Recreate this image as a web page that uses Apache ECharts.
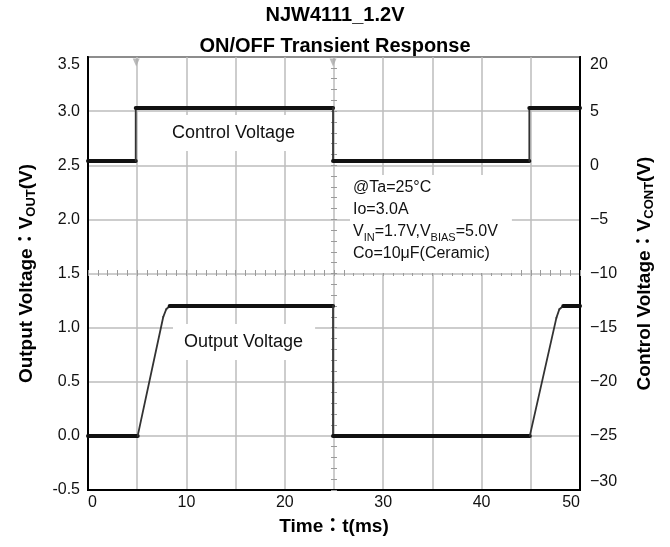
<!DOCTYPE html>
<html><head><meta charset="utf-8">
<script src="https://cdn.jsdelivr.net/npm/echarts@6/dist/echarts.min.js"></script>
<style>html,body{margin:0;padding:0;background:#fff}#c{width:670px;height:547px}</style>
</head><body><div id="c"></div>
<script>
// ---- data ----
const titleLines = ['NJW4111_1.2V', 'ON/OFF Transient Response'];
const xTickLabels = ['0', '10', '20', '30', '40', '50'];
const leftTickLabels = ['-0.5', '0.0', '0.5', '1.0', '1.5', '2.0', '2.5', '3.0', '3.5'];
const rightTickLabels = ['\u221230', '\u221225', '\u221220', '\u221215', '\u221210', '\u22125', '0', '5', '20'];
const outputTime = [0, 5.05, 7.65, 7.95, 8.3, 24.9, 24.9, 44.9, 47.6, 47.9, 48.3, 50];
const outputVolt = [0, 0, 1.1, 1.17, 1.2, 1.2, 0, 0, 1.09, 1.17, 1.2, 1.2];
const controlTime = [0, 4.85, 4.85, 24.9, 24.9, 44.85, 44.85, 50];
const controlVolt = [0.4, 0.4, 5.3, 5.3, 0.4, 0.4, 5.3, 5.3];
const triggerTimes = [4.9, 24.9];
const triggerLevel = [3.45, 3.45];
const annotationLines = ['@Ta=25°C', 'Io=3.0A', 'V{IN}=1.7V,V{BIAS}=5.0V', 'Co=10μF(Ceramic)'];

const FONT = '"Liberation Sans", Arial, "Noto Sans CJK JP", sans-serif';
const NARROW = '"Liberation Sans Narrow", "Liberation Sans", Arial, sans-serif';
const GRIDC = '#bdbdbd';
const TICKC = '#9a9a9a';

function toSegments(ts, vs) {
  const out = [];
  for (let i = 0; i < ts.length - 1; i++) out.push([ts[i], vs[i], ts[i + 1], vs[i + 1]]);
  return out;
}
function renderSeg(params, api) {
  const a = api.coord([api.value(0), api.value(1)]);
  const b = api.coord([api.value(2), api.value(3)]);
  const flat = api.value(1) === api.value(3);
  return {
    type: 'line',
    shape: { x1: a[0], y1: a[1], x2: b[0], y2: b[1] },
    style: { stroke: flat ? '#111' : '#333', lineWidth: flat ? 4 : 1.8, lineCap: 'round' }
  };
}
function subRich(line) {
  return line.replace(/([^{}]+)|\{([^}]+)\}/g, (m, n, s) => n ? '{n|' + n + '}' : '{s|' + s + '}');
}

const centerTickX = inside => ({
  type: 'value', min: 0, max: 50, interval: 5, position: 'bottom', offset: -217,
  axisLine: { show: false, onZero: false },
  axisTick: { show: true, inside: inside, length: 3, lineStyle: { color: TICKC, width: 1 } },
  minorTick: { show: true, splitNumber: 5, length: 3, lineStyle: { color: TICKC, width: 1 } },
  axisLabel: { show: false }, splitLine: { show: false }
});
const centerTickY = inside => ({
  type: 'value', min: -0.5, max: 3.5, interval: 0.5, position: 'left', offset: -246,
  axisLine: { show: false, onZero: false },
  axisTick: { show: true, inside: inside, length: 3, lineStyle: { color: TICKC, width: 1 } },
  minorTick: { show: true, splitNumber: 5, length: 3, lineStyle: { color: TICKC, width: 1 } },
  axisLabel: { show: false }, splitLine: { show: false }
});

const chart = echarts.init(document.getElementById('c'));
chart.setOption({
  animation: false,
  backgroundColor: '#fff',
  title: {
    text: titleLines.join('\n'), left: 'center', top: 0, padding: 0,
    textStyle: { fontFamily: FONT, fontSize: 20, fontWeight: 'bold', color: '#000', lineHeight: 31 }
  },
  grid: { left: 88, right: 90, top: 57, bottom: 57, show: true, borderColor: '#000', borderWidth: 2, containLabel: false, outerBoundsMode: 'none' },
  xAxis: [
    {
      type: 'value', min: 0, max: 50, interval: 5, position: 'bottom',
      axisLine: { show: true, onZero: false, lineStyle: { color: '#000', width: 2 } },
      axisTick: { show: false },
      axisLabel: { formatter: v => (v % 10 === 0 ? xTickLabels[v / 10] : ''), color: '#111', fontSize: 16, fontFamily: FONT, margin: 5, alignMinLabel: 'left', alignMaxLabel: 'right' },
      splitLine: { show: true, lineStyle: { color: GRIDC, width: 1.5 } },
      name: 'Time：t(ms)', nameLocation: 'middle', nameGap: 27,
      nameTextStyle: { fontSize: 19, fontWeight: 'bold', color: '#000', fontFamily: FONT }
    },
    centerTickX(true), centerTickX(false)
  ],
  yAxis: [
    {
      type: 'value', min: -0.5, max: 3.5, interval: 0.5, position: 'left',
      axisLine: { show: true, onZero: false, lineStyle: { color: '#000', width: 2 } },
      axisTick: { show: false },
      axisLabel: { formatter: v => leftTickLabels[Math.round((v + 0.5) / 0.5)], color: '#111', fontSize: 16, fontFamily: FONT, margin: 8, verticalAlignMaxLabel: 'top' },
      splitLine: { show: true, lineStyle: { color: GRIDC, width: 1.5 } },
      name: '{b|Output Voltage：V}{s|OUT}{b|(V)}', nameLocation: 'middle', nameGap: 50, nameRotate: 90,
      nameTextStyle: {
        rich: {
          b: { fontSize: 19, fontWeight: 'bold', color: '#000', fontFamily: FONT, lineHeight: 22 },
          s: { fontSize: 13, fontWeight: 'bold', color: '#000', fontFamily: FONT, lineHeight: 12, verticalAlign: 'bottom' }
        }
      }
    },
    {
      type: 'value', min: -30, max: 10, interval: 5, position: 'right',
      axisLine: { show: true, onZero: false, lineStyle: { color: '#000', width: 2 } },
      axisTick: { show: false },
      axisLabel: { formatter: v => rightTickLabels[Math.round((v + 30) / 5)], color: '#111', fontSize: 16, fontFamily: NARROW, margin: 10, verticalAlignMinLabel: 'bottom', verticalAlignMaxLabel: 'top' },
      splitLine: { show: false },
      name: '{b|Control Voltage：V}{s|CONT}{b|(V)}', nameLocation: 'middle', nameGap: 54, nameRotate: 90,
      nameTextStyle: {
        rich: {
          b: { fontSize: 19, fontWeight: 'bold', color: '#000', fontFamily: FONT, lineHeight: 22 },
          s: { fontSize: 13, fontWeight: 'bold', color: '#000', fontFamily: FONT, lineHeight: 12, verticalAlign: 'bottom' }
        }
      }
    },
    centerTickY(true), centerTickY(false)
  ],
  series: [
    {
      type: 'custom', name: 'Output Voltage', xAxisIndex: 0, yAxisIndex: 0, silent: true, z: 10,
      data: toSegments(outputTime, outputVolt), encode: { x: [0, 2], y: [1, 3] }, renderItem: renderSeg
    },
    {
      type: 'custom', name: 'Control Voltage', xAxisIndex: 0, yAxisIndex: 1, silent: true, z: 10,
      data: toSegments(controlTime, controlVolt), encode: { x: [0, 2], y: [1, 3] }, renderItem: renderSeg
    },
    {
      type: 'scatter', name: 'Trigger', xAxisIndex: 0, yAxisIndex: 0, silent: true, z: 5,
      data: triggerTimes.map((t, i) => [t, triggerLevel[i]]),
      symbol: 'triangle', symbolRotate: 180, symbolSize: [7, 8], itemStyle: { color: '#aaa' }
    }
  ],
  graphic: [
    {
      type: 'text', left: 160, top: 115, z: 20,
      style: { text: 'Control Voltage', font: '18px ' + FONT, fill: '#111', backgroundColor: '#fff', padding: [9, 14, 9, 12] }
    },
    {
      type: 'text', left: 173, top: 324, z: 20,
      style: { text: 'Output Voltage', font: '18px ' + FONT, fill: '#111', backgroundColor: '#fff', padding: [9, 12, 9, 11] }
    },
    {
      type: 'text', left: 350, top: 175, z: 20,
      style: {
        text: annotationLines.map(subRich).join('\n'),
        fill: '#111', backgroundColor: '#fff', padding: [2, 14, 8, 3],
        rich: {
          n: { fontSize: 16, fontFamily: FONT, lineHeight: 22, fill: '#111' },
          s: { fontSize: 11, fontFamily: FONT, lineHeight: 12, verticalAlign: 'bottom', fill: '#111' }
        }
      }
    }
  ]
});
</script></body></html>
